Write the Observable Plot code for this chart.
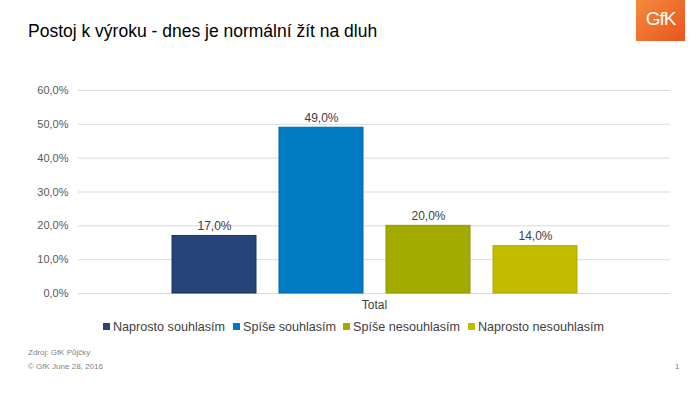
<!DOCTYPE html>
<html>
<head>
<meta charset="utf-8">
<script src="https://cdn.jsdelivr.net/npm/d3@7"></script>
<script src="https://cdn.jsdelivr.net/npm/@observablehq/plot@0.6"></script>
<style>
  body { margin: 0; background: #fff; font-family: "Liberation Sans", Arial, sans-serif; }
  #wrap { position: relative; width: 700px; height: 393px; overflow: hidden; background: #fff; }
  #chart { position: absolute; left: 0; top: 0; }
  .abs { position: absolute; white-space: nowrap; }
  #title { left: 28px; top: 21px; font-size: 17.5px; color: #000; }
  #logo { left: 636px; top: 0px; width: 49px; height: 41px; background: linear-gradient(135deg, #f58a3c, #e8551f); color: #fff; font-size: 19px; text-align: center; line-height: 38px; letter-spacing: -1px; }
  .leg { top: 320px; font-size: 12.6px; color: #404040; }
  .sw { display: inline-block; width: 7px; height: 7px; margin-right: 3px; vertical-align: 1px; }
  .foot { font-size: 8px; color: #7f7f7f; }
</style>
</head>
<body>
<div id="wrap">
  <div id="chart"></div>
  <div class="abs" id="title">Postoj k výroku - dnes je normální žít na dluh</div>
  <div class="abs" id="logo">GfK</div>
  <div id="legend"></div>
  <div class="abs foot" style="left:28px; top:348px;">Zdroj: GfK Půjčky</div>
  <div class="abs foot" style="left:28px; top:362px;">© GfK June 28, 2016</div>
  <div class="abs foot" style="left:675px; top:362px;">1</div>
</div>
<script>
const category = "Total";
const series = ["Naprosto souhlasím", "Spíše souhlasím", "Spíše nesouhlasím", "Naprosto nesouhlasím"];
const values = [17.0, 49.0, 20.0, 14.0];
const colors = ["#264478", "#007ac3", "#a3ab00", "#c3bb00"];
const strokes = ["#1c3563", "#0068a8", "#909800", "#b0a900"];
const yTicks = [0, 10, 20, 30, 40, 50, 60];

const data = series.map((s, i) => ({series: s, value: values[i]}));
const fmt = v => v.toFixed(1).replace(".", ",") + "%";

const plot = Plot.plot({
  width: 700,
  height: 393,
  marginTop: 90,
  marginBottom: 100,
  marginLeft: 78,
  marginRight: 30,
  style: {fontFamily: "Liberation Sans, Arial, sans-serif", fontSize: "11px", color: "#595959", background: "transparent"},
  x: {domain: series, range: [171, 577], paddingInner: 0.215, paddingOuter: 0, axis: null},
  y: {domain: [0, 60], ticks: yTicks, tickFormat: fmt, label: null, tickSize: 0, tickPadding: 10},
  color: {domain: series, range: colors},
  marks: [
    Plot.ruleY(yTicks.slice(1), {stroke: "#d9d9d9", strokeWidth: 1}),
    Plot.ruleY([0], {stroke: "#d9d9d9", strokeWidth: 1}),
    Plot.barY(data, {x: "series", y: "value", fill: "series", stroke: (d, i) => strokes[i], strokeWidth: 1, inset: 0}),
    Plot.text(data, {x: "series", y: "value", text: d => fmt(d.value), dy: -10, fontSize: 12, fill: "#404040"}),
    Plot.text([category], {frameAnchor: "bottom", dy: 15, fontSize: 12, fill: "#404040"}),
    Plot.axisY({ticks: yTicks, tickFormat: fmt, tickSize: 0, tickPadding: 10, fontSize: 11, label: null})
  ]
});
document.getElementById("chart").appendChild(plot);

const legendLefts = [103, 233, 343, 468];
const legend = document.getElementById("legend");
series.forEach((s, i) => {
  const el = document.createElement("div");
  el.className = "abs leg";
  el.style.left = legendLefts[i] + "px";
  el.innerHTML = `<span class="sw" style="background:${colors[i]}"></span>${s}`;
  legend.appendChild(el);
});
</script>
</body>
</html>
